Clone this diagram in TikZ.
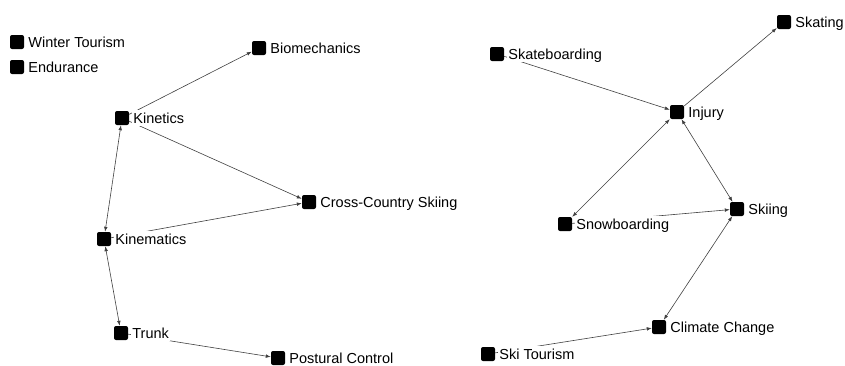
\documentclass[tikz,border=0pt]{standalone}
\usepackage{fontspec}
\setmainfont{Liberation Sans}
\usetikzlibrary{arrows.meta,positioning}
\tikzset{
 sq/.style={fill=black,rounded corners=2pt,minimum size=14pt,inner sep=0pt},
 lbl/.style={fill=white,inner xsep=1.5pt,inner ysep=1pt,text height=12pt,text depth=2pt,
             font=\fontsize{14.5}{16}\selectfont},
 arrow/.style={-{Latex[length=5pt,width=3.6pt]},line width=0.6pt,black!75},
 twoway/.style={{Latex[length=5pt,width=3.6pt]}-{Latex[length=5pt,width=3.6pt]},
             line width=0.6pt,black!75}
}

\begin{document}
\begin{tikzpicture}[x=1pt,y=-1pt,node distance=2.5pt]
\useasboundingbox (0,0) rectangle (845,365);
% left group
\node[sq] (wt) at (17,42) {};
\node[sq] (endur) at (17,67) {};
\node[sq] (bio) at (259,48) {};
\node[sq] (kinet) at (122,118) {};
\node[sq] (ccs) at (309,202) {};
\node[sq] (kinem) at (104,239) {};
\node[sq] (trunk) at (121,333) {};
\node[sq] (post) at (278,358) {};
% right group
\node[sq] (skateb) at (497,54) {};
\node[sq] (injury) at (677,112) {};
\node[sq] (skating) at (784,22) {};
\node[sq] (snowb) at (565,224) {};
\node[sq] (skiing) at (737,209) {};
\node[sq] (climate) at (659,327) {};
\node[sq] (skitour) at (488,354) {};
% links
\draw[arrow] (kinet)--(bio);
\draw[arrow] (kinet)--(ccs);
\draw[arrow] (kinem)--(ccs);
\draw[twoway] (kinet)--(kinem);
\draw[twoway] (kinem)--(trunk);
\draw[arrow] (trunk)--(post);
\draw[arrow] (skateb)--(injury);
\draw[arrow] (injury)--(skating);
\draw[twoway] (snowb)--(injury);
\draw[twoway] (injury)--(skiing);
\draw[arrow] (snowb)--(skiing);
\draw[twoway] (skiing)--(climate);
\draw[arrow] (skitour)--(climate);
% labels
\node[lbl,right=of wt] (wt-t) {Winter Tourism};
\node[lbl,right=of endur] (endur-t) {Endurance};
\node[lbl,right=of bio] (bio-t) {Biomechanics};
\node[lbl,right=of kinet] (kinet-t) {Kinetics};
\node[lbl,right=of ccs] (ccs-t) {Cross-Country Skiing};
\node[lbl,right=of kinem] (kinem-t) {Kinematics};
\node[lbl,right=of trunk] (trunk-t) {Trunk};
\node[lbl,right=of post] (post-t) {Postural Control};
\node[lbl,right=of skateb] (skateb-t) {Skateboarding};
\node[lbl,right=of injury] (injury-t) {Injury};
\node[lbl,right=of skating] (skating-t) {Skating};
\node[lbl,right=of snowb] (snowb-t) {Snowboarding};
\node[lbl,right=of skiing] (skiing-t) {Skiing};
\node[lbl,right=of climate] (climate-t) {Climate Change};
\node[lbl,right=of skitour] (skitour-t) {Ski Tourism};
\end{tikzpicture}
\end{document}
